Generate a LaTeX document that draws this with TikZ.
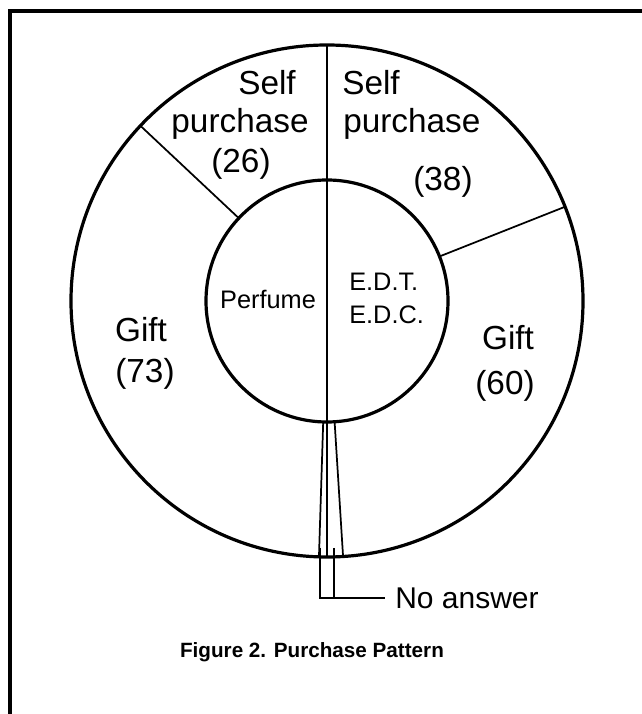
\documentclass[tikz,border=0pt]{standalone}
\usepackage{fontspec}
\setmainfont{Liberation Sans}
\usepackage{tikz}
\usetikzlibrary{positioning}

\begin{document}
\begin{tikzpicture}[
    x=0.75pt, y=0.75pt,
    ring/.style={line width=2.4pt},
    divider/.style={line width=1.3pt},
    biglabel/.style={inner sep=0pt, font=\fontsize{25}{30}\selectfont},
    smalllabel/.style={inner sep=0pt, align=left, font=\fontsize{19}{24.75}\selectfont},
    caption/.style={inner sep=0pt, font=\fontsize{15.5}{18}\selectfont\bfseries},
  ]
    \useasboundingbox (0,0) rectangle (642,714);
    \draw[ring] (10,0) -- (10,703) -- (642,703);

    \coordinate (C) at (327,413);
    \draw[ring] (C) circle (256);
    \draw[ring] (C) circle (121);

    \draw[divider] ([shift={(90:256)}]C) -- ([shift={(270:256)}]C);
    \draw[divider, shift={(C)}] (136.8:121) -- (136.8:256);
    \draw[divider, shift={(C)}] (21.6:121) -- (21.6:256);
    \draw[divider, shift={(C)}] (268.2:121) -- (268.2:256);
    \draw[divider, shift={(C)}] (273.6:121) -- (273.6:256);

    \node[biglabel, anchor=base] (SELFL) at (267,619) {Self};
    \node[biglabel, anchor=base] (PURL) at (240,581) {purchase};
    \node[biglabel, anchor=base] (NUML) at (241,541) {(26)};
    \node[biglabel, anchor=base west] (SELFR) at (342,619) {Self};
    \node[biglabel, anchor=base west] (PURR) at (343,581) {purchase};
    \node[biglabel, anchor=base] (NUMR) at (443,523) {(38)};

    \node[biglabel, anchor=base] (GIFTL) at (141,372) {Gift};
    \node[biglabel, anchor=base] (SHAREL) at (145,331) {(73)};
    \node[biglabel, anchor=base] (GIFTR) at (508,364) {Gift};
    \node[biglabel, anchor=base] (SHARER) at (505,319) {(60)};

    \node[smalllabel, anchor=base] (PERF) at (268,405) {Perfume};
    \node[smalllabel, anchor=base west] (EDT) at (349,390) {E.D.T.\\E.D.C.};

    % no answer bracket
    \node[biglabel, font=\fontsize{22.5}{27}\selectfont, inner xsep=7.5pt, anchor=west] (NOANS) at (385,116) {No answer};
    \coordinate (NA1) at (320,166);
    \coordinate (NA2) at (334,166);
    \draw[divider] (NA1) |- (NOANS.west);
    \draw[divider] (NA2) -- (NA2 |- NOANS.west);

    \node[caption, anchor=base] (CAP) at (312,56) {Figure 2. Purchase Pattern};
\end{tikzpicture}
\end{document}
